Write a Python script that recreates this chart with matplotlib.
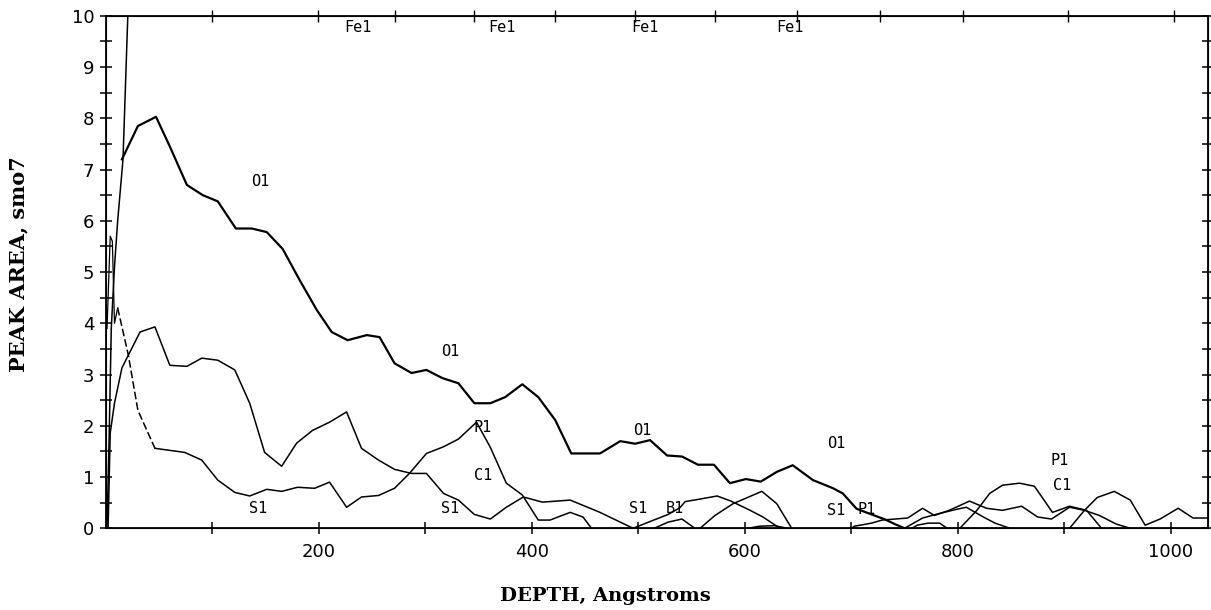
import numpy as np
import matplotlib
matplotlib.use("Agg")
import matplotlib.pyplot as plt

# depth (Angstroms) and peak area
o1_x = [15, 30, 47, 60, 76, 91, 105, 122, 137, 151, 166, 182, 198, 212, 227, 245, 257,
        271, 287, 301, 316, 331, 346, 361, 375, 391, 406, 422, 437, 464, 483, 497, 511,
        527, 541, 556, 571, 586, 601, 615, 630, 645, 664, 683, 692, 705, 719, 732, 741, 750]
o1_y = [7.2, 7.85, 8.03, 7.45, 6.7, 6.5, 6.38, 5.85, 5.85, 5.78, 5.45, 4.84, 4.26, 3.83,
        3.67, 3.77, 3.73, 3.22, 3.03, 3.09, 2.93, 2.83, 2.44, 2.44, 2.56, 2.81, 2.56, 2.11,
        1.46, 1.46, 1.70, 1.65, 1.72, 1.42, 1.40, 1.24, 1.24, 0.88, 0.96, 0.91, 1.10, 1.23,
        0.94, 0.78, 0.68, 0.38, 0.27, 0.17, 0.08, 0.0]

fe_x = [1, 3, 5, 8, 11, 16, 21]
fe_y = [0.0, 1.8, 3.9, 5.1, 6.0, 7.2, 10.3]

p1_x = [1, 4, 6, 8, 11, 21, 30, 46, 60, 74, 90, 105, 121, 135, 151, 165, 180, 196, 210,
        226, 240, 256, 271, 285, 301, 317, 331, 348, 361, 376, 391, 406, 417, 436, 448, 456]
p1_y = [3.9, 5.7, 5.6, 4.0, 4.3, 3.38, 2.30, 1.56, 1.52, 1.48, 1.33, 0.94, 0.70, 0.63,
        0.76, 0.72, 0.80, 0.78, 0.90, 0.41, 0.61, 0.64, 0.78, 1.07, 1.46, 1.59, 1.74, 2.07,
        1.58, 0.88, 0.65, 0.16, 0.16, 0.31, 0.22, 0.0]

s1_x = [2, 4, 8, 15, 32, 46, 60, 76, 90, 105, 121, 135, 149, 165, 179, 194, 210, 226,
        240, 256, 271, 287, 301, 317, 331, 346, 361, 376, 392, 410, 436, 464, 495]
s1_y = [0.0, 1.86, 2.44, 3.13, 3.83, 3.93, 3.18, 3.16, 3.32, 3.28, 3.09, 2.44, 1.48, 1.21,
        1.66, 1.91, 2.07, 2.27, 1.56, 1.33, 1.15, 1.07, 1.07, 0.68, 0.55, 0.27, 0.18, 0.41,
        0.61, 0.51, 0.55, 0.31, 0.0]

s1b_x = [495, 517, 528, 539, 544, 558, 574, 587, 605, 617, 633]
s1b_y = [0.0, 0.18, 0.27, 0.40, 0.52, 0.57, 0.63, 0.53, 0.35, 0.22, 0.0]

b1_x = [515, 528, 541, 553]
b1_y = [0.0, 0.12, 0.18, 0.0]

c1_x = [558, 572, 589, 616, 630, 644]
c1_y = [0.0, 0.25, 0.48, 0.72, 0.48, 0.0]

t1_x = [603, 614, 628, 640]
t1_y = [0.0, 0.04, 0.05, 0.0]

p1b_x = [700, 703, 719, 729, 753, 767, 778, 792, 811, 827, 842, 860, 875, 888, 905, 919,
         933, 949, 962]
p1b_y = [0.0, 0.04, 0.1, 0.16, 0.2, 0.39, 0.25, 0.35, 0.53, 0.39, 0.35, 0.43, 0.22, 0.18,
         0.41, 0.35, 0.25, 0.08, 0.0]

d1_x = [750, 767, 783, 799, 808, 824, 835, 849]
d1_y = [0.0, 0.2, 0.29, 0.37, 0.41, 0.22, 0.1, 0.0]

e1_x = [757, 762, 772, 783, 790]
e1_y = [0.0, 0.06, 0.1, 0.1, 0.0]

p1c_x = [802, 818, 830, 842, 858, 872, 889, 905, 921, 935]
p1c_y = [0.0, 0.35, 0.68, 0.84, 0.88, 0.82, 0.31, 0.43, 0.35, 0.0]

c1b_x = [905, 919, 931, 947, 962, 976, 990, 1007, 1021, 1035]
c1b_y = [0.0, 0.35, 0.6, 0.72, 0.55, 0.06, 0.18, 0.39, 0.2, 0.2]

# curve labels
lab_text = ["O1", "O1", "O1", "O1", "S1", "S1", "S1", "S1", "P1", "P1", "P1", "C1", "C1", "B1"]
lab_x = [145, 323, 504, 686, 143, 323, 500, 686, 354, 714, 896, 354, 898, 534]
lab_y = [6.77, 3.44, 1.91, 1.66, 0.39, 0.39, 0.39, 0.35, 1.97, 0.37, 1.33, 1.03, 0.84, 0.39]
fe_lab_x = [237, 372, 506, 642]

top_ticks = [100, 199, 271, 346, 422, 497, 572, 649, 727, 805, 904, 1003]

fig = plt.figure(figsize=(12.11, 6.10), dpi=100)
ax = fig.add_axes([0.0875, 0.134, 0.91, 0.84])

ax.plot(o1_x, o1_y, color="black", lw=1.6)
ax.plot(fe_x, fe_y, color="black", lw=1.1)
ax.plot(p1_x[:5], p1_y[:5], color="black", lw=0.9)
ax.plot(p1_x[4:8], p1_y[4:8], color="black", lw=1.1, dashes=(5, 2))
ax.plot(p1_x[7:], p1_y[7:], color="black", lw=1.1)
for xs, ys in [(s1_x, s1_y), (s1b_x, s1b_y), (b1_x, b1_y), (c1_x, c1_y), (t1_x, t1_y),
               (p1b_x, p1b_y), (d1_x, d1_y), (e1_x, e1_y), (p1c_x, p1c_y), (c1b_x, c1b_y)]:
    ax.plot(xs, ys, color="black", lw=1.1)

for t, x, y in zip(lab_text, lab_x, lab_y):
    ax.text(x, y, t, family="DejaVu Sans Mono", fontsize=11, ha="center", va="center")
for x in fe_lab_x:
    ax.text(x, 9.78, "Fe1", family="DejaVu Sans Mono", fontsize=11, ha="center", va="center")

ax.set_xlim(0, 1035)
ax.set_ylim(0, 10)
ax.set_xticks([200, 400, 600, 800, 1000])
ax.set_xticks(np.arange(100, 1001, 100), minor=True)
ax.set_yticks(range(0, 11))
ax.set_yticks(np.arange(0.5, 10, 0.5), minor=True)
ax.tick_params(which="both", direction="inout", length=9, width=1.1, labelsize=13,
               right=True)
ax.tick_params(axis="x", pad=6)
ax.tick_params(axis="y", pad=4)
for s in ax.spines.values():
    s.set_linewidth(1.3)

ax2 = ax.twiny()
ax2.set_xlim(ax.get_xlim())
ax2.set_xticks(top_ticks)
ax2.tick_params(direction="inout", length=9, width=1.0, labeltop=False)

fig.text(605 / 1211, 1 - 596 / 610, "DEPTH, Angstroms", family="DejaVu Serif",
         weight="bold", fontsize=14, ha="center", va="center")
fig.text(18 / 1211, 1 - 264 / 610, "PEAK AREA, smo7", family="DejaVu Serif",
         weight="bold", fontsize=15, ha="center", va="center", rotation=90)

fig.savefig("out.png", dpi=100)
